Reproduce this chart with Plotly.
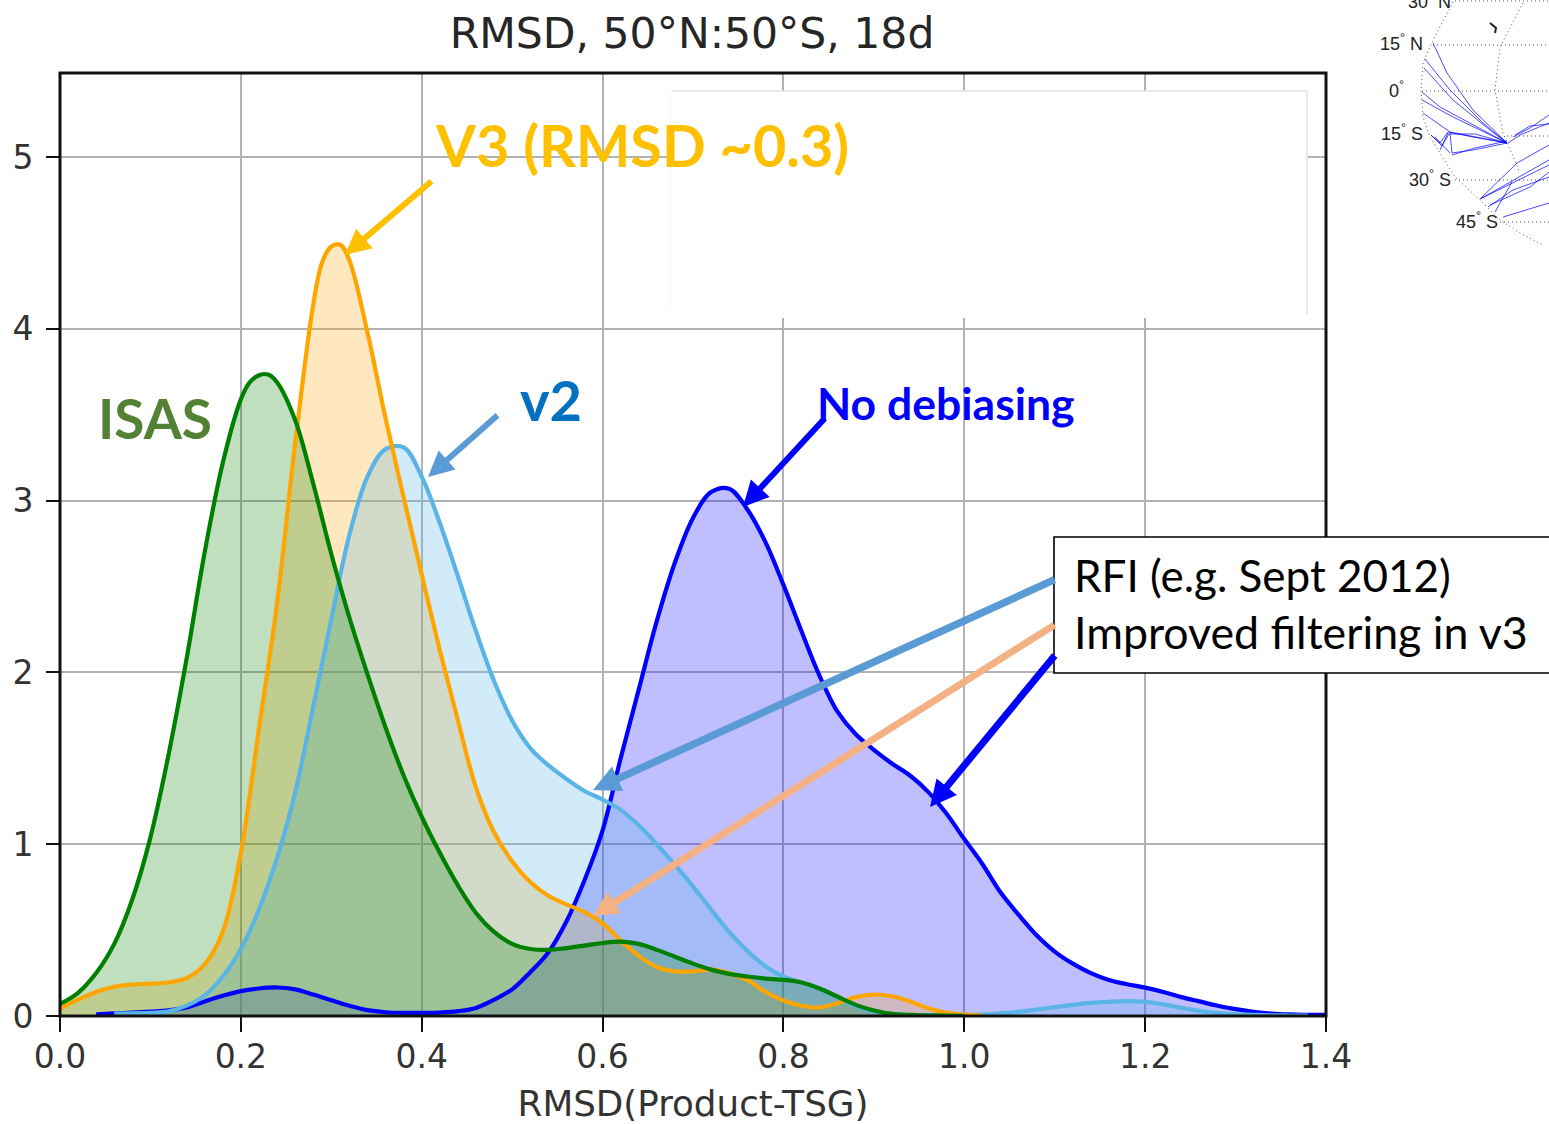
import plotly.graph_objects as go

W, H = 1549, 1124

# ---- KDE curves ----
blue_x = [.04,.06,.08,.10,.12,.14,.16,.18,.20,.22,.24,.26,.28,.30,.32,.34,.36,.38,.40,.42,.44,.46,.48,.50,.52,.54,.56,.58,.60,.62,.64,.66,.68,.70,.72,.74,.76,.78,.80,.82,.84,.86,.88,.90,.92,.94,.96,.98,1.0,1.02,1.04,1.06,1.08,1.10,1.12,1.14,1.16,1.18,1.20,1.22,1.24,1.26,1.28,1.30,1.32,1.34,1.36,1.38,1.40]
blue_y = [.01,.015,.02,.026,.033,.05,.085,.118,.145,.16,.166,.155,.125,.092,.06,.034,.022,.018,.018,.02,.028,.047,.095,.155,.255,.37,.55,.79,1.08,1.50,1.90,2.30,2.64,2.90,3.05,3.07,2.95,2.76,2.51,2.24,1.98,1.77,1.64,1.55,1.47,1.40,1.305,1.18,1.03,.885,.72,.59,.47,.375,.305,.25,.21,.185,.165,.14,.11,.085,.06,.04,.024,.014,.009,.007,.006]

v2_x = [.06,.08,.10,.12,.14,.16,.18,.20,.22,.24,.26,.28,.30,.32,.34,.36,.38,.40,.42,.44,.46,.48,.50,.52,.54,.56,.58,.60,.62,.64,.66,.68,.70,.72,.74,.76,.78,.80,.82,.84,.86,.88,.90,.92,.94,.96,.98,1.0,1.02,1.04,1.06,1.08,1.10,1.12,1.14,1.16,1.18,1.20,1.22,1.24,1.26,1.28,1.30,1.32,1.34,1.36,1.38]
v2_y = [.014,.016,.018,.027,.06,.12,.23,.39,.62,.92,1.30,1.80,2.31,2.80,3.14,3.30,3.31,3.14,2.87,2.56,2.24,1.95,1.72,1.56,1.46,1.38,1.31,1.26,1.20,1.11,1.0,.88,.755,.62,.49,.38,.29,.23,.195,.16,.105,.055,.025,.012,.007,.005,.005,.006,.009,.016,.025,.038,.052,.065,.076,.083,.087,.083,.068,.048,.03,.017,.01,.006,.004,.003,.002]

v3_x = [0,.02,.04,.06,.08,.10,.12,.14,.16,.18,.20,.22,.24,.26,.28,.29,.30,.31,.32,.34,.36,.38,.40,.42,.44,.46,.48,.50,.52,.54,.56,.58,.60,.62,.64,.66,.68,.70,.72,.74,.76,.78,.80,.82,.84,.86,.88,.90,.92,.94,.96,.98,1.0,1.02]
v3_y = [.043,.095,.14,.17,.183,.188,.195,.22,.30,.49,.95,1.67,2.40,3.33,4.14,4.39,4.48,4.49,4.40,3.98,3.48,3.02,2.57,2.13,1.72,1.33,1.07,.90,.78,.70,.65,.605,.54,.44,.35,.285,.26,.26,.27,.25,.21,.14,.09,.06,.05,.075,.11,.125,.115,.085,.045,.02,.008,.002]

isas_x = [0,.02,.04,.06,.08,.10,.12,.14,.16,.18,.20,.21,.22,.23,.24,.26,.28,.30,.32,.34,.36,.38,.40,.42,.44,.46,.48,.50,.52,.54,.56,.58,.60,.62,.64,.66,.68,.70,.72,.74,.76,.78,.80,.82,.84,.86,.88,.90,.92,.94,.96,.98,1.0]
isas_y = [.07,.135,.25,.42,.68,1.04,1.52,2.08,2.70,3.22,3.59,3.69,3.73,3.735,3.69,3.47,3.10,2.69,2.32,1.99,1.68,1.40,1.16,.95,.76,.60,.49,.42,.39,.385,.395,.41,.425,.433,.42,.385,.345,.305,.27,.245,.23,.218,.21,.195,.16,.112,.065,.032,.012,.006,.004,.002,.001]

x_ticks = [0.0, 0.2, 0.4, 0.6, 0.8, 1.0, 1.2, 1.4]
x_labels = ["0.0", "0.2", "0.4", "0.6", "0.8", "1.0", "1.2", "1.4"]
y_ticks = [0, 1, 2, 3, 4, 5]

# ---- small map fragment at the top right (read in the map's own image units) ----
map_grid = [
    ([1433, 1549], [45, 45]),
    ([1422, 1549], [91, 91]),
    ([1507, 1549], [136, 136]),
    ([1455, 1549], [180, 180]),
    ([1500, 1549], [222, 222]),
    ([1455, 1549], [1, 1]),
    ([1453, 1433, 1423, 1421, 1423, 1430, 1440, 1455, 1480, 1500, 1520, 1543],
     [2, 40, 63, 90, 117, 137, 153, 177, 200, 220, 233, 245]),
    ([1523, 1500, 1495, 1503, 1520], [3, 47, 90, 133, 173]),
]
map_tracks = [
    ([1433, 1447, 1473, 1507], [43, 73, 110, 143]),
    ([1425, 1450, 1483, 1507], [59, 90, 123, 143]),
    ([1424, 1453, 1490, 1507], [68, 100, 130, 143]),
    ([1422, 1440, 1507], [92, 107, 143]),
    ([1422, 1453, 1507], [100, 117, 143]),
    ([1423, 1450, 1507], [113, 132, 143]),
    ([1431, 1440, 1448, 1473, 1507], [135, 143, 132, 137, 143]),
    ([1431, 1442, 1449, 1475, 1507], [135, 146, 134, 134, 143]),
    ([1452, 1473, 1507], [153, 150, 143]),
    ([1452, 1475, 1507], [155, 148, 141]),
    ([1450, 1452], [133, 153]),
    ([1440, 1448], [150, 133]),
    ([1435, 1450], [137, 153]),
    ([1508, 1520, 1549], [143, 135, 123]),
    ([1513, 1530, 1549], [137, 128, 115]),
    ([1515, 1530, 1549], [135, 126, 124]),
    ([1480, 1517, 1549], [199, 163, 145]),
    ([1480, 1513, 1549], [199, 183, 165]),
    ([1482, 1520, 1549], [198, 176, 160]),
    ([1488, 1513, 1549], [207, 190, 177]),
    ([1490, 1530, 1549], [205, 187, 172]),
    ([1495, 1512], [212, 182]),
    ([1503, 1549], [217, 203]),
]
map_mark_x = [1490, 1496, 1495]
map_mark_y = [23, 28, 33]
map_labels = [("30<sup>°</sup> N", 1406, 0),
              ("15<sup>°</sup> N", 1378, 43),
              ("0<sup>°</sup>", 1387, 89),
              ("15<sup>°</sup> S", 1379, 133),
              ("30<sup>°</sup> S", 1407, 178),
              ("45<sup>°</sup> S", 1454, 220)]

FILLS = [(blue_x, blue_y, "rgba(0,0,255,0.25)"),
         (v3_x, v3_y, "rgba(255,165,0,0.25)"),
         (v2_x, v2_y, "rgba(90,180,229,0.27)"),
         (isas_x, isas_y, "rgba(0,128,0,0.25)")]
LINES = [(blue_x, blue_y, "#0000ff"),
         (v2_x, v2_y, "#5ab4e5"),
         (v3_x, v3_y, "#ffa500"),
         (isas_x, isas_y, "#008000")]

fig = go.Figure()
for xs, ys, col in FILLS:
    fig.add_trace(go.Scatter(x=xs, y=ys, mode="none", fill="tozeroy", fillcolor=col,
                             line=dict(shape="spline", smoothing=1.0),
                             showlegend=False, hoverinfo="skip"))
for xs, ys, col in LINES:
    fig.add_trace(go.Scatter(x=xs, y=ys, mode="lines",
                             line=dict(color=col, width=4.2, shape="spline", smoothing=1.0),
                             showlegend=False, hoverinfo="skip"))

for xs, ys in map_grid:
    fig.add_trace(go.Scatter(x=xs, y=ys, mode="lines", xaxis="x2", yaxis="y2", showlegend=False,
                             line=dict(color="#555555", width=1, dash="1px 3px"), hoverinfo="skip"))
for xs, ys in map_tracks:
    fig.add_trace(go.Scatter(x=xs, y=ys, mode="lines", xaxis="x2", yaxis="y2", showlegend=False,
                             line=dict(color="rgba(0,0,255,0.7)", width=1), hoverinfo="skip"))
fig.add_trace(go.Scatter(x=map_mark_x, y=map_mark_y, mode="lines", xaxis="x2", yaxis="y2",
                         showlegend=False, line=dict(color="#222222", width=2), hoverinfo="skip"))


def px(x):
    return x / W


def py(y):
    return 1 - y / H


annotations = []
LATO = "Lato"
for txt, x0, yc, size, col, bold in [
    ("V3 (RMSD ~0.3)", 433, 145, 57.5, "#ffc000", True),
    ("ISAS", 96, 418, 55, "#548235", True),
    ("v2", 518, 400, 56, "#0070c0", True),
    ("No debiasing", 815, 403, 44.5, "#0000ff", True),
    ("RFI (e.g. Sept 2012)", 1072, 575, 44, "#000000", False),
    ("Improved filtering in v3", 1072, 632, 44.7, "#000000", False),
]:
    annotations.append(dict(text=f"<b>{txt}</b>" if bold else txt, xref="paper", yref="paper",
                            x=px(x0), y=py(yc), xanchor="left", yanchor="middle", showarrow=False,
                            font=dict(family=LATO, size=size, color=col)))

for hx, hy, tx, ty, col, w, hs in [
    (345, 255, 433, 180, "#ffc000", 6, 0.85),
    (428, 477, 499, 414, "#5b9bd5", 6, 0.85),
    (743, 507, 826, 417, "#0000ff", 6, 0.85),
    (593, 790, 1056, 579, "#5b9bd5", 7.5, 0.72),
    (593, 916, 1056, 624, "#f4b183", 7, 0.72),
    (930, 807, 1056, 654, "#0000ff", 7, 0.75),
]:
    annotations.append(dict(text="", xref="paper", yref="paper", x=px(hx), y=py(hy),
                            axref="pixel", ayref="pixel", ax=tx - hx, ay=ty - hy,
                            showarrow=True, arrowhead=2, arrowsize=hs, arrowwidth=w,
                            arrowcolor=col, standoff=0, startstandoff=0))

for txt, x0, yc in map_labels:
    annotations.append(dict(text=txt, xref="paper", yref="paper", x=px(x0), y=py(yc),
                            xanchor="left", yanchor="middle", showarrow=False,
                            font=dict(family="Liberation Sans", size=18, color="#222222")))

shapes = [
    # axes frame
    dict(type="rect", xref="paper", yref="paper", x0=px(60), x1=px(1326), y0=py(1016), y1=py(73),
         fillcolor="rgba(0,0,0,0)", line=dict(color="#111111", width=3), layer="above"),
    # blanked legend patch pasted over the axes
    dict(type="rect", xref="paper", yref="paper", x0=px(670), x1=px(1308), y0=py(318), y1=py(91),
         fillcolor="#ffffff", line=dict(width=0), layer="above"),
    dict(type="line", xref="paper", yref="paper", x0=px(672), x1=px(1307), y0=py(91), y1=py(91),
         line=dict(color="#e2e2e2", width=1.5), layer="above"),
    dict(type="line", xref="paper", yref="paper", x0=px(1307), x1=px(1307), y0=py(91), y1=py(314),
         line=dict(color="#e2e2e2", width=1.5), layer="above"),
    dict(type="line", xref="paper", yref="paper", x0=px(670), x1=px(670), y0=py(91), y1=py(310),
         line=dict(color="#f5f5f5", width=1), layer="above"),
    # callout box
    dict(type="rect", xref="paper", yref="paper", x0=px(1054), x1=px(1560), y0=py(673), y1=py(537),
         fillcolor="#ffffff", line=dict(color="#000000", width=1.6), layer="above"),
]

fig.update_layout(
    width=W, height=H, autosize=False,
    margin=dict(l=0, r=0, t=0, b=0, autoexpand=False),
    paper_bgcolor="#ffffff", plot_bgcolor="#ffffff",
    showlegend=False,
    title=dict(text="RMSD, 50°N:50°S, 18d", x=692 / W, xanchor="center", y=py(33), yanchor="middle",
               automargin=False,
               font=dict(family="DejaVu Sans", size=42.5, color="#262626")),
    xaxis=dict(domain=[px(60), px(1326)], range=[0, 1.4], tickmode="array", tickvals=x_ticks,
               ticktext=x_labels, ticks="outside", ticklen=15, tickwidth=2, tickcolor="#111111",
               showline=False, automargin=False, ticklabelstandoff=-4,
               showgrid=True, gridcolor="#b2b2b2", gridwidth=2.4, zeroline=False,
               tickfont=dict(family="DejaVu Sans", size=33, color="#333333"),
               title=dict(text="RMSD(Product-TSG)", standoff=24,
                          font=dict(family="DejaVu Sans", size=35.7, color="#333333"))),
    yaxis=dict(domain=[py(1016), py(73)], range=[0, 5.49], tickmode="array", tickvals=y_ticks,
               ticks="outside", ticklen=13, tickwidth=2, tickcolor="#111111",
               showline=False, automargin=False, ticklabelstandoff=6,
               showgrid=True, gridcolor="#b2b2b2", gridwidth=2.4, zeroline=False,
               tickfont=dict(family="DejaVu Sans", size=33, color="#333333")),
    xaxis2=dict(domain=[px(1340), 1], range=[1340, 1549], visible=False, anchor="y2", fixedrange=True),
    yaxis2=dict(domain=[py(250), 1], range=[250, 0], visible=False, anchor="x2", fixedrange=True),
    annotations=annotations,
    shapes=shapes,
)

fig.write_html("out.html", config={"displayModeBar": False},
               post_script="document.body.style.margin='0';document.body.style.overflow='hidden';")
